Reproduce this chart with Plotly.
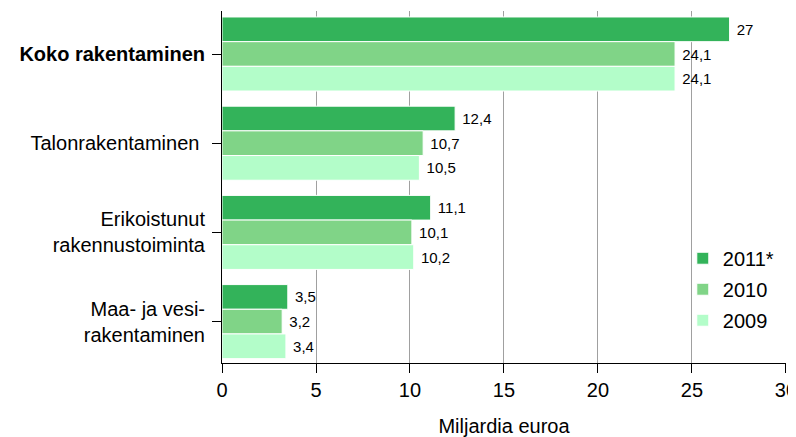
import plotly.graph_objects as go

categories = ["Koko rakentaminen", "Talonrakentaminen", "Erikoistunut rakennustoiminta", "Maa- ja vesi-rakentaminen"]
tick_labels = ["<b>Koko rakentaminen</b>", "Talonrakentaminen\u00a0", "Erikoistunut<br>rakennustoiminta", "Maa- ja vesi-<br>rakentaminen"]
series_names = ["2011*", "2010", "2009"]
values_2011 = [27, 12.4, 11.1, 3.5]
values_2010 = [24.1, 10.7, 10.1, 3.2]
values_2009 = [24.1, 10.5, 10.2, 3.4]
colors = ["#33b35a", "#80d487", "#b3fdc9"]
x_ticks = [0, 5, 10, 15, 20, 25, 30]

FONT = "Liberation Sans"

def fmt(v):
    s = ("%g" % v)
    return s.replace(".", ",")

fig = go.Figure()
for name, vals, col in zip(series_names, [values_2011, values_2010, values_2009], colors):
    fig.add_trace(go.Bar(
        y=categories, x=vals, orientation="h", name=name, legendgroup=name,
        marker=dict(color=col, line=dict(color="white", width=1)),
        text=[fmt(v) for v in vals], textposition="outside",
        texttemplate="\u00a0%{text}",
        textfont=dict(family=FONT, size=15, color="black"),
        cliponaxis=False,
    ))

# the page body has an 8px margin, so the figure is 788x429 inside the 796x437 window
fig.update_layout(
    width=788, height=429,
    margin=dict(l=214, r=10, t=3, b=74, autoexpand=False),
    paper_bgcolor="white", plot_bgcolor="white",
    barmode="group", bargap=0.17, bargroupgap=0.0,
    font=dict(family=FONT, size=20, color="black"),
    showlegend=True,
    legend=dict(x=0.817, y=0.353, xanchor="left", yanchor="top",
                font=dict(family=FONT, size=20, color="black"),
                bgcolor="rgba(0,0,0,0)", tracegroupgap=2, itemwidth=30),
    xaxis=dict(range=[0, 30.001], tickvals=x_ticks, ticktext=[str(t) for t in x_ticks],
               showgrid=True, gridcolor="#a0a0a0", gridwidth=1,
               showline=True, linecolor="black", linewidth=1,
               ticks="outside", ticklen=9, tickcolor="black",
               zeroline=False, automargin=False, ticklabeloverflow="allow",
               title=dict(text="Miljardia euroa", font=dict(family=FONT, size=20), standoff=19),
               tickfont=dict(family=FONT, size=20)),
    yaxis=dict(categoryorder="array", categoryarray=categories,
               tickvals=categories, ticktext=tick_labels,
               range=[3.464, -0.482], showgrid=False, automargin=False,
               showline=True, linecolor="black", linewidth=1,
               ticks="outside", ticklen=9, tickcolor="black", ticklabelstandoff=3,
               tickfont=dict(family=FONT, size=20)),
)

fig.write_html("out.html")
